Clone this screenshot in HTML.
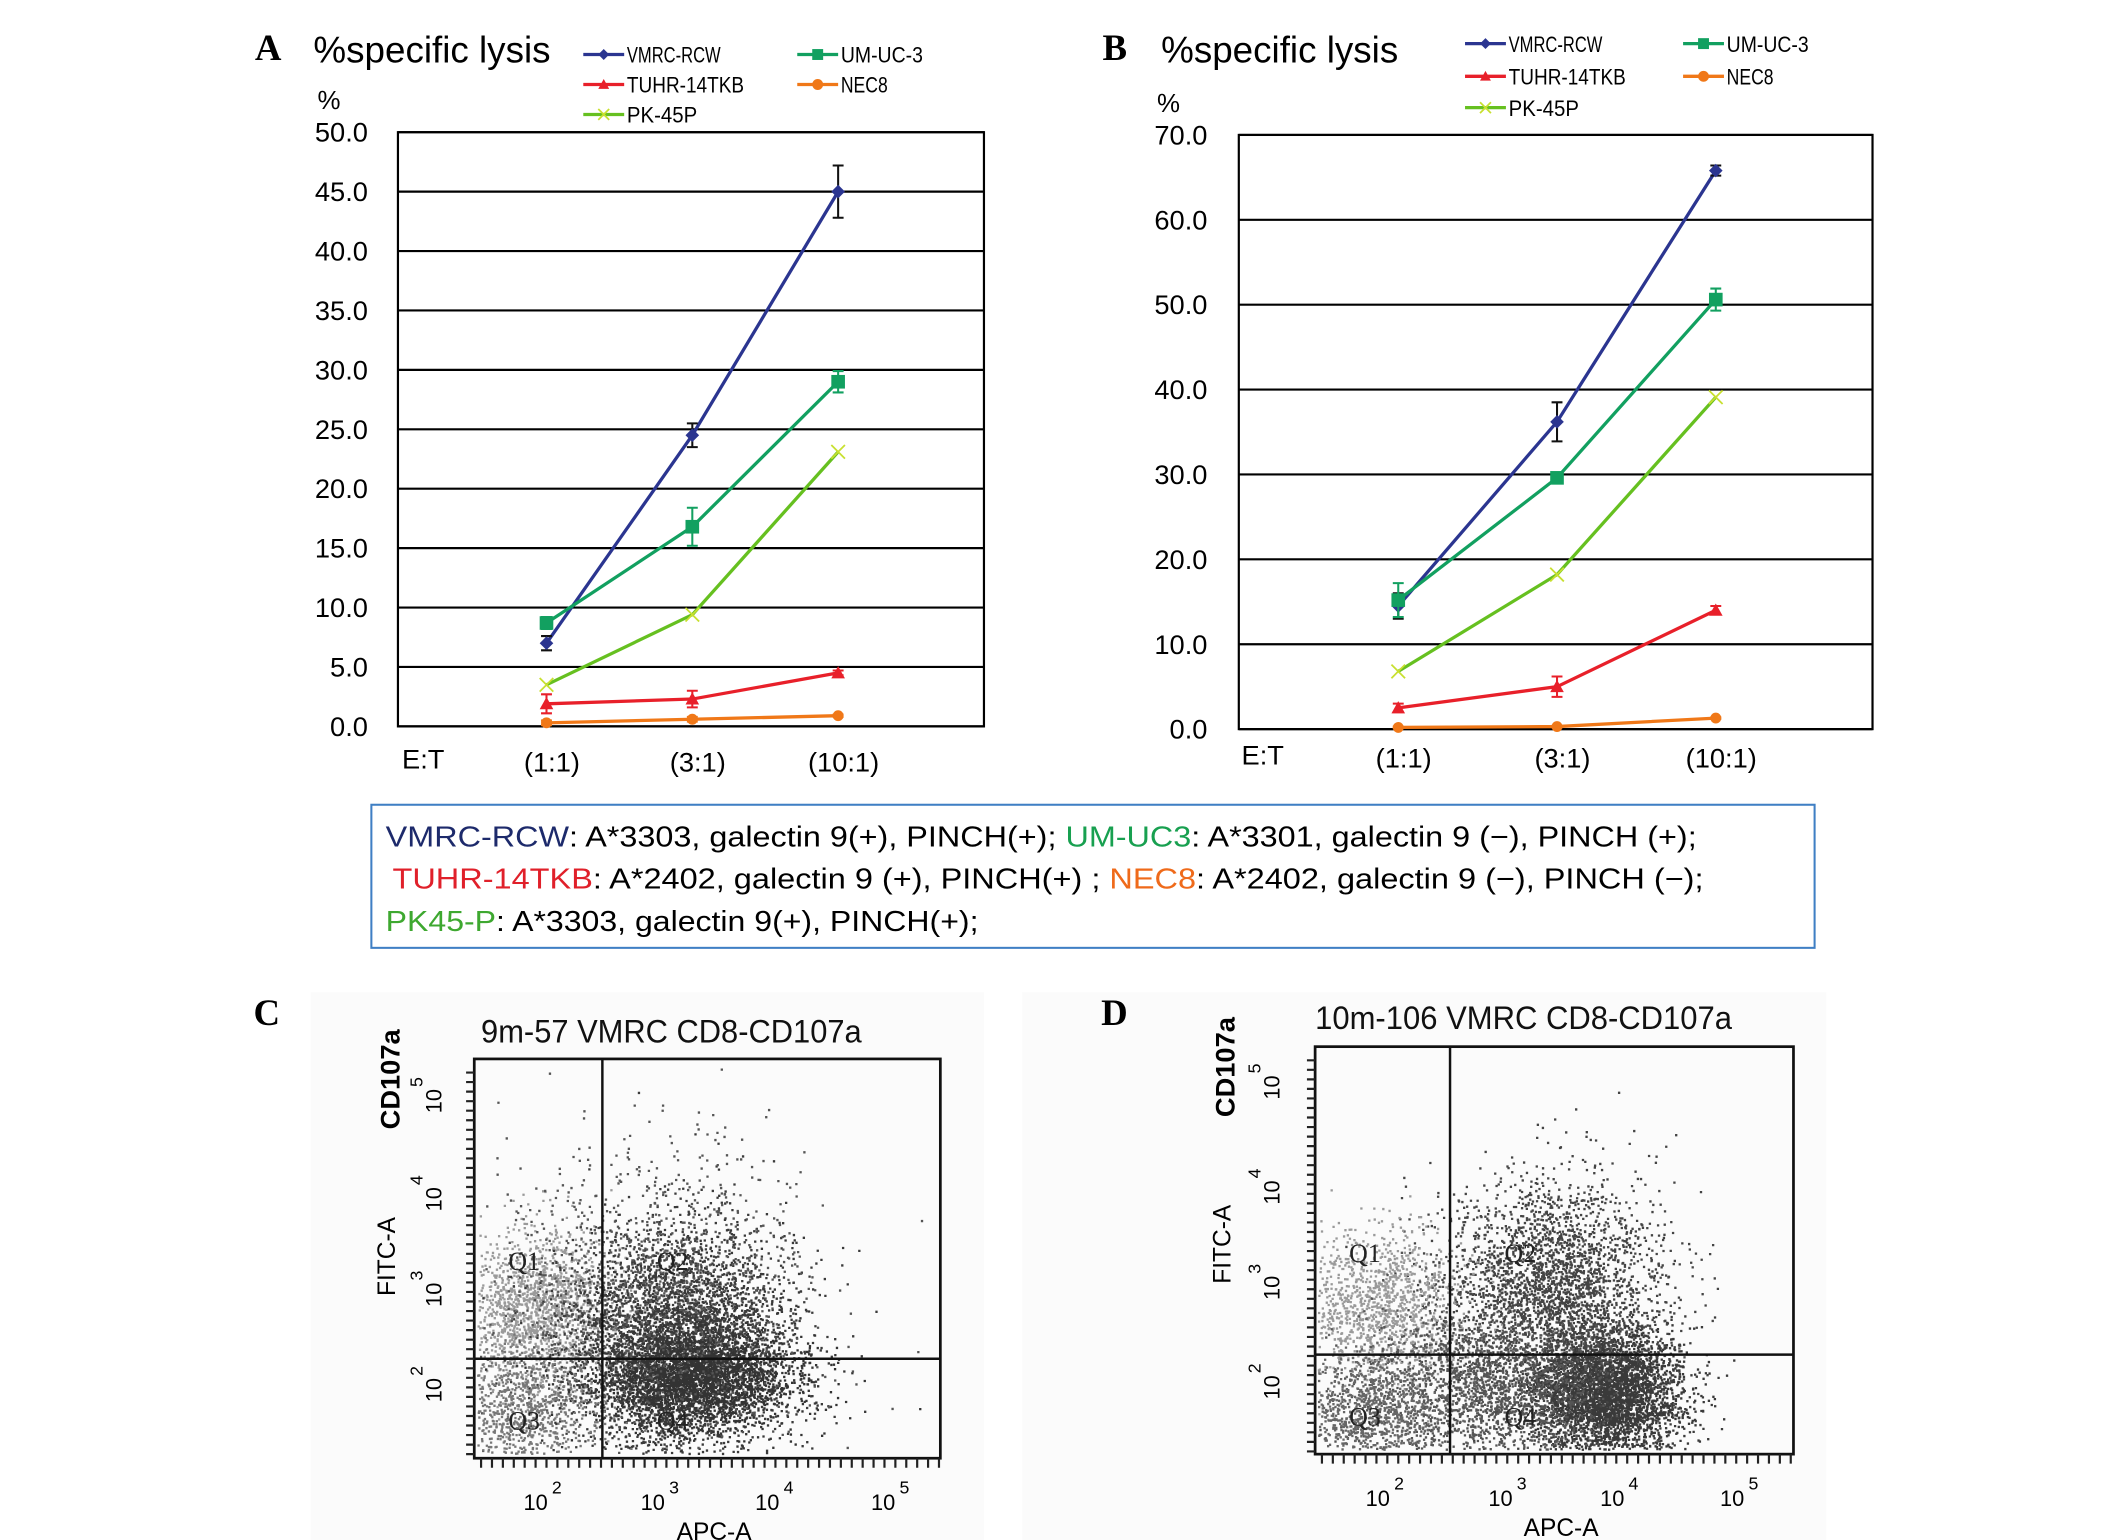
<!DOCTYPE html>
<html><head><meta charset="utf-8">
<style>
html,body{margin:0;padding:0;background:#fff;}
svg{display:block;}
text{font-family:"Liberation Sans",sans-serif;}
</style></head>
<body>
<svg id="root" width="2126" height="1540" viewBox="0 0 1560 1130" preserveAspectRatio="none" xmlns="http://www.w3.org/2000/svg">
<rect x="0" y="0" width="1560" height="1130" fill="#fff"/>
<g id="panelA"></g>
<g id="panelB"></g>
<g>
  <rect x="272.5" y="590.5" width="1059" height="105" fill="#fff" stroke="#3f7fc4" stroke-width="1.5"/>
  <text x="283" y="621" font-size="21" textLength="962" lengthAdjust="spacingAndGlyphs"><tspan fill="#1d2a6b">VMRC-RCW</tspan><tspan fill="#000">: A*3303, galectin 9(+), PINCH(+);  </tspan><tspan fill="#18a050">UM-UC3</tspan><tspan fill="#000">: A*3301, galectin 9 (−), PINCH (+);</tspan></text>
  <text x="288" y="652" font-size="21" textLength="962" lengthAdjust="spacingAndGlyphs"><tspan fill="#e0202a">TUHR-14TKB</tspan><tspan fill="#000">: A*2402, galectin 9 (+), PINCH(+) ; </tspan><tspan fill="#ef6a1a">NEC8</tspan><tspan fill="#000">:  A*2402, galectin 9 (−), PINCH (−);</tspan></text>
  <text x="283" y="683" font-size="21" textLength="435" lengthAdjust="spacingAndGlyphs"><tspan fill="#3ea830">PK45-P</tspan><tspan fill="#000">: A*3303, galectin 9(+), PINCH(+);</tspan></text>
</g>
<rect x="228" y="728" width="494" height="402" fill="#fbfbfb"/>
<rect x="750" y="728" width="590" height="402" fill="#fbfbfb"/>
<g id="panelC"></g>
<g id="panelD"></g>
</svg>
<script>
const NS="http://www.w3.org/2000/svg";
// ---- Panel A data ----
const categories=["(1:1)","(3:1)","(10:1)"];
const seriesNames=["VMRC-RCW","UM-UC-3","TUHR-14TKB","NEC8","PK-45P"];
const aVmrc=[7.0,24.5,45.0];   const aVmrcErr=[0.6,1.0,2.2];
const aUmuc=[8.7,16.8,29.0];   const aUmucErr=[0.5,1.6,0.9];
const aTuhr=[1.9,2.3,4.5];     const aTuhrErr=[0.8,0.7,0.2];
const aNec8=[0.3,0.6,0.9];     const aNec8Err=[0.2,0.2,0.1];
const aPk45=[3.5,9.4,23.1];    const aPk45Err=[0,0,0];
const aTicks=["0.0","5.0","10.0","15.0","20.0","25.0","30.0","35.0","40.0","45.0","50.0"];
// ---- Panel B data ----
const bVmrc=[14.5,36.2,65.8];  const bVmrcErr=[1.5,2.3,0.6];
const bUmuc=[15.2,29.6,50.6];  const bUmucErr=[2.0,0.5,1.3];
const bTuhr=[2.5,5.0,14.0];    const bTuhrErr=[0.5,1.2,0.5];
const bNec8=[0.2,0.3,1.3];     const bNec8Err=[0.1,0.1,0.1];
const bPk45=[6.8,18.2,39.1];   const bPk45Err=[0,0,0];
const bTicks=["0.0","10.0","20.0","30.0","40.0","50.0","60.0","70.0"];

const colors=["#2b3590","#12a060","#e8202a","#f07818","#66c020"];
const markers=["diamond","square","triangle","circle","x"];

function mk(tag,attrs,parent){const e=document.createElementNS(NS,tag);for(const k in attrs)e.setAttribute(k,attrs[k]);parent.appendChild(e);return e;}
function txt(parent,x,y,s,size,anchor,extra){
  extra=Object.assign({},extra||{});
  let style="";
  if(extra["font-family"]){style="font-family:"+extra["font-family"]+";";delete extra["font-family"];}
  const a=Object.assign({x:x,y:y,"font-size":size,"text-anchor":anchor||"start",fill:"#000"},extra);
  if(style)a.style=style;
  const t=mk("text",a,parent);t.textContent=s;return t;}
function marker(g,type,x,y,c,s){
  if(type==="diamond")return mk("polygon",{points:`${x},${y-s} ${x+s},${y} ${x},${y+s} ${x-s},${y}`,fill:c},g);
  if(type==="square")return mk("rect",{x:x-s,y:y-s,width:2*s,height:2*s,fill:c},g);
  if(type==="triangle")return mk("polygon",{points:`${x},${y-s} ${x+s},${y+s*0.8} ${x-s},${y+s*0.8}`,fill:c},g);
  if(type==="circle")return mk("circle",{cx:x,cy:y,r:s,fill:c},g);
  return mk("path",{d:`M${x-s},${y-s}L${x+s},${y+s}M${x-s},${y+s}L${x+s},${y-s}`,stroke:"#c8e030","stroke-width":1.3},g);
}
function lineChart(cfg){
  const g=document.getElementById(cfg.id);
  const {x0,x1,y0,y1,max,step,cx,ticks,series,errs}=cfg;
  const ys=v=>y1-(v/max)*(y1-y0);
  const xs=i=>cx[0]+i*(cx[1]-cx[0]);
  const grid=mk("g",{},g);
  
  
  ticks.forEach((t,i)=>{const v=i*step;const y=ys(v);
    mk("line",{x1:x0,x2:x1,y1:y,y2:y,stroke:"#000","stroke-width":1.6},grid);
    const tl=txt(g,cfg.tickX,y+7,t,20,"end");
    
    
  });
  const fr=mk("rect",{x:x0,y:y0,width:x1-x0,height:y1-y0,fill:"none",stroke:"#000","stroke-width":1.6},g);
  
  
  categories.forEach((c,i)=>{const t=txt(g,xs(i)+4,cfg.catY,c,20,"middle");
    
    });
  const et=txt(g,cfg.etX,cfg.catY-2,"E:T",20,"start");
  
  
  series.forEach((vals,si)=>{
    const sg=mk("g",{},g);
    
    
    const pts=vals.map((v,i)=>xs(i)+","+ys(v)).join(" ");
    mk("polyline",{points:pts,fill:"none",stroke:colors[si],"stroke-width":2.4},sg);
    vals.forEach((v,i)=>{
      const e=errs[si][i];
      if(e>0){const ec=si===0?"#111":colors[si];
        mk("path",{d:`M${xs(i)},${ys(v+e)}V${ys(v-e)}M${xs(i)-4},${ys(v+e)}H${xs(i)+4}M${xs(i)-4},${ys(v-e)}H${xs(i)+4}`,stroke:ec,"stroke-width":1.5,fill:"none"},sg);}
      const m=marker(sg,markers[si],xs(i),ys(v),colors[si],si===3?4:5);
      
      
    });
  });
  const L=txt(g,cfg.letterX,cfg.titleY-2,cfg.letter,27,"start",{"font-family":"'Liberation Serif',serif","font-weight":"bold"});
  
  
  const T=txt(g,cfg.titleX,cfg.titleY,"%specific lysis",27,"start");
  
  
  const P=txt(g,cfg.pctX,cfg.pctY,"%",19,"start");
  
  
  cfg.legend.forEach((pos,si)=>{
    const lg=mk("g",{},g);
    
    
    mk("line",{x1:pos[0],x2:pos[0]+30,y1:pos[1],y2:pos[1],stroke:colors[si],"stroke-width":2.4},lg);
    marker(lg,markers[si],pos[0]+15,pos[1],colors[si],4);
    txt(lg,pos[0]+32,pos[1]+6,seriesNames[si],16,"start",{textLength:seriesNames[si].length*8.6,lengthAdjust:"spacingAndGlyphs"});
  });
}
lineChart({id:"panelA",x0:292,x1:722,y0:97,y1:533,max:50,step:5,cx:[401,508],ticks:aTicks,
  series:[aVmrc,aUmuc,aTuhr,aNec8,aPk45],errs:[aVmrcErr,aUmucErr,aTuhrErr,aNec8Err,aPk45Err],
  tickX:270,catY:566,etX:295,letter:"A",letterX:187,titleX:230,titleY:46,pctX:233,pctY:80,
  legend:[[428,40],[585,40],[428,62],[585,62],[428,84]]});
lineChart({id:"panelB",x0:909,x1:1374,y0:99,y1:535,max:70,step:10,cx:[1026,1142.5],ticks:bTicks,
  series:[bVmrc,bUmuc,bTuhr,bNec8,bPk45],errs:[bVmrcErr,bUmucErr,bTuhrErr,bNec8Err,bPk45Err],
  tickX:886,catY:563,etX:911,letter:"B",letterX:809,titleX:852,titleY:46,pctX:849,pctY:82,
  legend:[[1075,32],[1235,32],[1075,56],[1235,56],[1075,79]]});

// ---- Flow cytometry panels (decorative scatter texture, seeded) ----
function rng(seed){return function(){seed|=0;seed=seed+0x6D2B79F5|0;let t=Math.imul(seed^seed>>>15,1|seed);t=t+Math.imul(t^t>>>7,61|t)^t;return((t^t>>>14)>>>0)/4294967296;};}
function gauss(r){let u=0,v=0;while(u===0)u=r();v=r();return Math.sqrt(-2*Math.log(u))*Math.cos(2*Math.PI*v);}
const flowC={id:"panelC",fx0:348,fx1:690,fy0:777,fy1:1070,vx:442,hy:997,title:"9m-57 VMRC CD8-CD107a",titleX:353,titleY:765,letter:"C",letterX:186,letterY:752,
  yt:[[808,"5"],[880,"4"],[950,"3"],[1020,"2"]],xt:[[397,"2"],[483,"3"],[567,"4"],[652,"5"]],ylab:293,ytick:324,
  clusters:[[395,962,28,28,1600,"#9a9a9a"],[500,985,40,40,4500,"#3a3a3a"],[510,1012,38,18,2800,"#333"],[480,950,55,55,1300,"#555"],[385,1032,28,24,900,"#777"]],seed:7};
const flowD={id:"panelD",fx0:965,fx1:1316,fy0:768,fy1:1067,vx:1064,hy:994,title:"10m-106 VMRC CD8-CD107a",titleX:965,titleY:755,letter:"D",letterX:808,letterY:752,
  yt:[[798,"5"],[875,"4"],[945,"3"],[1018,"2"]],xt:[[1015,"2"],[1105,"3"],[1187,"4"],[1275,"5"]],ylab:906,ytick:939,
  clusters:[[1178,1022,28,24,4200,"#3a3a3a"],[1140,945,40,40,3000,"#444"],[1010,960,30,28,1300,"#9a9a9a"],[1090,1020,45,30,2000,"#555"],[1000,1035,30,22,1100,"#666"]],seed:11};
function flow(cfg){
  const g=document.getElementById(cfg.id);
  const r=rng(cfg.seed);
  const dots=mk("g",{},g);
  
  
  let d={};
  cfg.clusters.forEach(c=>{
    for(let i=0;i<c[4];i++){
      const x=c[0]+gauss(r)*c[2],y=c[1]+gauss(r)*c[3];
      if(x<cfg.fx0+2||x>cfg.fx1-3||y<cfg.fy0+2||y>cfg.fy1-4)continue;
      (d[c[5]]=d[c[5]]||[]).push(`M${x.toFixed(1)},${y.toFixed(1)}h1.7v1.7h-1.7z`);
    }
  });
  for(const col in d)mk("path",{d:d[col].join(""),fill:col},dots);
  mk("rect",{x:cfg.fx0,y:cfg.fy0,width:cfg.fx1-cfg.fx0,height:cfg.fy1-cfg.fy0,fill:"none",stroke:"#111","stroke-width":2},g);
  mk("line",{x1:cfg.vx,x2:cfg.vx,y1:cfg.fy0,y2:cfg.fy1,stroke:"#111","stroke-width":1.8},g);
  mk("line",{x1:cfg.fx0,x2:cfg.fx1,y1:cfg.hy,y2:cfg.hy,stroke:"#111","stroke-width":1.8},g);
  let tk="";
  for(let y=cfg.fy0+10;y<cfg.fy1;y+=7)tk+=`M${cfg.fx0-6},${y}H${cfg.fx0}`;
  for(let x=cfg.fx0+5;x<cfg.fx1;x+=8)tk+=`M${x},${cfg.fy1}V${cfg.fy1+7}`;
  mk("path",{d:tk,stroke:"#222","stroke-width":1.6},g);
  const q=[["Q1",cfg.fx0+25,(cfg.fy0+cfg.hy)/2+45],["Q2",cfg.vx+40,(cfg.fy0+cfg.hy)/2+45],["Q3",cfg.fx0+25,cfg.hy+52],["Q4",cfg.vx+40,cfg.hy+52]];
  q.forEach(a=>{const t=txt(g,a[1],a[2],a[0],19,"start",{"font-family":"'Liberation Serif',serif",fill:"#222"});
    
    });
  const ti=txt(g,cfg.titleX,cfg.titleY,cfg.title,24,"start",{fill:"#111",textLength:cfg.title.length*13.3,lengthAdjust:"spacingAndGlyphs"});
  
  
  const L=txt(g,cfg.letterX,cfg.letterY,cfg.letter,27,"start",{"font-family":"'Liberation Serif',serif","font-weight":"bold"});
  
  
  const c1=txt(g,0,0,"CD107a",20,"middle",{"font-weight":"bold",transform:`translate(${cfg.ylab},${cfg.fy0+15}) rotate(-90)`});
  
  
  const c2=txt(g,0,0,"FITC-A",18,"middle",{transform:`translate(${cfg.ylab-3},${cfg.fy0+145}) rotate(-90)`});
  
  
  cfg.yt.forEach(a=>{const t=txt(g,0,0,"10",16,"middle",{transform:`translate(${cfg.ytick},${a[0]}) rotate(-90)`});
    txt(g,0,0,a[1],13,"middle",{transform:`translate(${cfg.ytick-14},${a[0]-14}) rotate(-90)`});
    
    });
  cfg.xt.forEach(a=>{const t=txt(g,a[0]-4,cfg.fy1+38,"10",16,"middle");
    txt(g,a[0]+8,cfg.fy1+26,a[1],13,"start");
    
    });
  const xa=txt(g,(cfg.fx0+cfg.fx1)/2+5,cfg.fy1+60,"APC-A",18,"middle");
  
  
}
flow(flowC);flow(flowD);
</script>
</body></html>
